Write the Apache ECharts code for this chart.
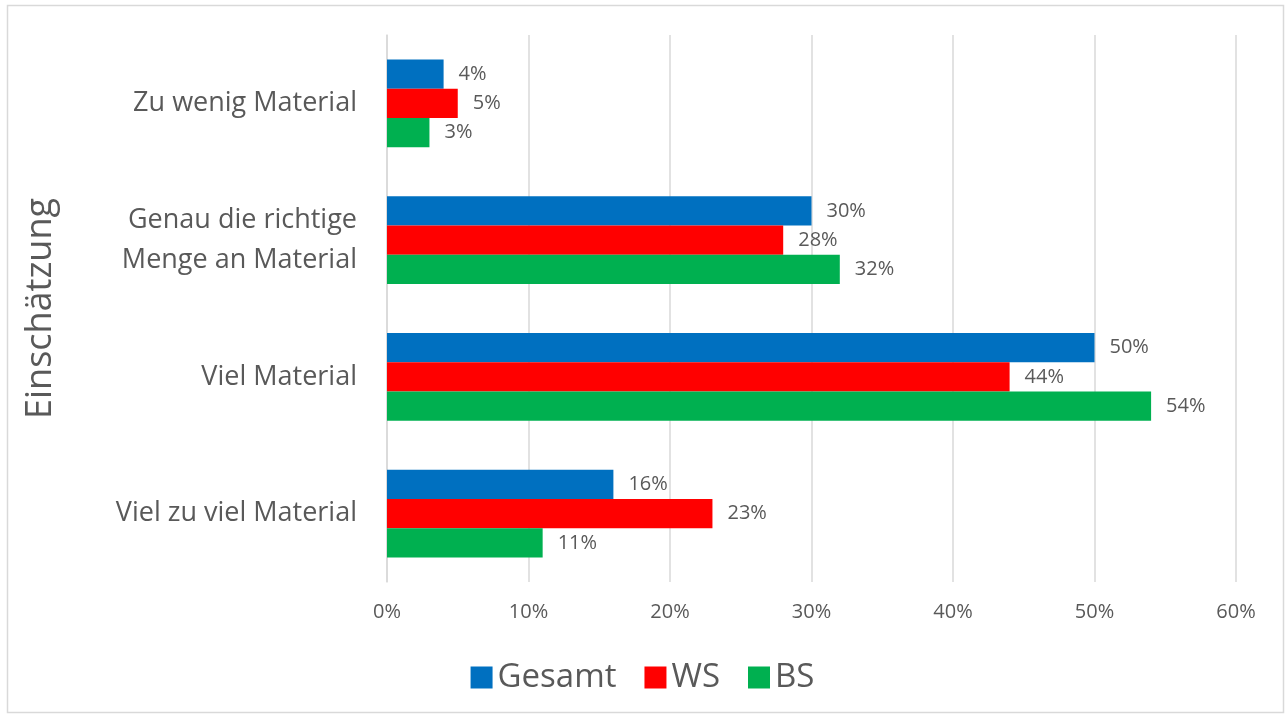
<!DOCTYPE html>
<html>
<head>
<meta charset="utf-8">
<script src="https://cdn.jsdelivr.net/npm/echarts@6/dist/echarts.min.js"></script>
<style>
  html, body { margin: 0; padding: 0; background: #fff; }
  #chart { width: 1285px; height: 717px; }
</style>
</head>
<body>
<div id="chart"></div>
<script>
// categories top to bottom
const categories = ['Zu wenig Material', 'Genau die richtige\nMenge an Material', 'Viel Material', 'Viel zu viel Material'];
const seriesNames = ['Gesamt', 'WS', 'BS'];
const gesamt = [4, 30, 50, 16];
const ws = [5, 28, 44, 23];
const bs = [3, 32, 54, 11];
const colors = ['#0070C0', '#FF0000', '#00B050'];

const textColor = '#595959';
const font = '"Open Sans", sans-serif';

var myChart = echarts.init(document.getElementById('chart'));

function makeSeries(name, values, color) {
    return {
        name: name,
        type: 'bar',
        data: values,
        barGap: '0%',
        barCategoryGap: '36%',
        itemStyle: { color: color },
        label: {
            show: true,
            position: 'right',
            distance: 15,
            formatter: '{c}%',
            color: textColor,
            fontSize: 20,
            fontFamily: font
        }
    };
}

var option = {
    animation: false,
    textStyle: { fontFamily: font },
    graphic: [{
        type: 'rect',
        shape: { x: 7.5, y: 5.5, width: 1276, height: 707 },
        style: { fill: 'none', stroke: '#d9d9d9', lineWidth: 1.5 },
        z: -1
    }],
    grid: { left: 387, right: 49, top: 35, bottom: 135 },
    legend: {
        data: seriesNames,
        bottom: 18,
        left: 'center',
        itemWidth: 22,
        itemHeight: 22,
        itemGap: 28,
        icon: 'rect',
        textStyle: { fontSize: 33, color: textColor, fontFamily: font }
    },
    xAxis: {
        type: 'value',
        min: 0,
        max: 60,
        interval: 10,
        axisLine: { show: false },
        axisTick: { show: false },
        axisLabel: {
            formatter: '{value}%',
            fontSize: 20,
            color: textColor,
            margin: 20,
            fontFamily: font
        },
        splitLine: { lineStyle: { color: '#d9d9d9', width: 1.5 } }
    },
    yAxis: {
        type: 'category',
        data: categories,
        inverse: true,
        name: 'Einschätzung',
        nameLocation: 'middle',
        nameRotate: 90,
        nameGap: 328,
        nameTextStyle: { fontSize: 36, color: textColor, fontFamily: font },
        axisLine: { lineStyle: { color: '#d9d9d9', width: 1.5 } },
        axisTick: { show: false },
        axisLabel: {
            fontSize: 27,
            color: textColor,
            margin: 30,
            lineHeight: 40,
            fontFamily: font
        }
    },
    series: [
        makeSeries(seriesNames[0], gesamt, colors[0]),
        makeSeries(seriesNames[1], ws, colors[1]),
        makeSeries(seriesNames[2], bs, colors[2])
    ]
};

option && myChart.setOption(option);
</script>
</body>
</html>
